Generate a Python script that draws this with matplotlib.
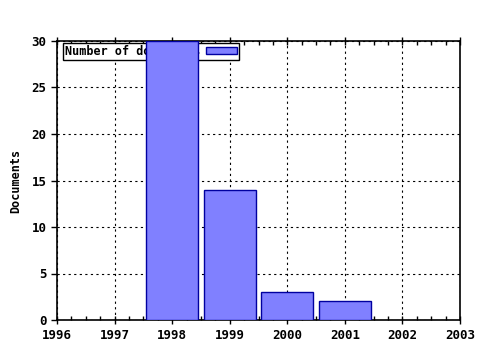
import matplotlib
matplotlib.use("Agg")
import matplotlib.pyplot as plt
from matplotlib.ticker import MultipleLocator

years = [1998, 1999, 2000, 2001]
documents = [30, 14, 3, 2]
xticks = [1996, 1997, 1998, 1999, 2000, 2001, 2002, 2003]
yticks = [0, 5, 10, 15, 20, 25, 30]

plt.rcParams['font.family'] = ['DejaVu Sans Mono']
plt.rcParams['font.weight'] = 'bold'
plt.rcParams['font.size'] = 8.5

fig = plt.figure(figsize=(4.8, 3.5), dpi=100)
ax = fig.add_axes([57/480, 30/350, 403/480, 279/350])

bars = ax.bar(years, documents, width=0.9, color='#8080ff', edgecolor='#0000a0',
              linewidth=1, label='Number of documents', zorder=3)

ax.set_xlim(1996, 2003)
ax.set_ylim(0, 30)
ax.set_xticks(xticks)
ax.set_yticks(yticks)
ax.xaxis.set_minor_locator(MultipleLocator(0.25))
ax.grid(True, which='major', color='black', linestyle=(0, (2, 3)), linewidth=0.8, zorder=0)
ax.set_axisbelow(True)
ax.tick_params(axis='x', which='major', direction='inout', length=6, width=1, top=True)
ax.tick_params(axis='x', which='minor', direction='in', length=3, width=1, top=True)
ax.tick_params(axis='y', which='major', direction='out', length=4, width=1)
ax.tick_params(labelsize=9)
for s in ax.spines.values():
    s.set_linewidth(1.2)
ax.set_ylabel('Documents', fontsize=8.5, fontweight='bold', labelpad=7)

leg = ax.legend(loc='upper left', bbox_to_anchor=(6/403, 277/279), markerfirst=False,
                fancybox=False, framealpha=1, edgecolor='black', borderpad=0.15,
                handlelength=2.6, handleheight=0.6, handletextpad=0.5, borderaxespad=0,
                fontsize=8.5)
leg.get_frame().set_linewidth(1)
leg.set_zorder(2)

fig.savefig('out.png', dpi=100)
